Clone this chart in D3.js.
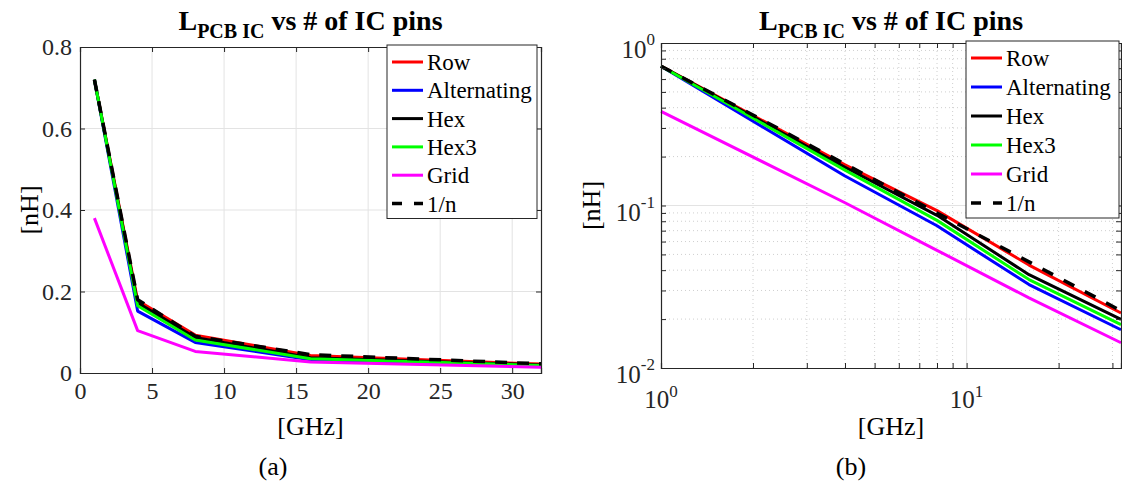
<!DOCTYPE html>
<html><head><meta charset="utf-8">
<script src="https://cdn.jsdelivr.net/npm/d3@7"></script>
<style>
body{margin:0;background:#fff;}
svg text{font-family:"Liberation Serif","Times New Roman","DejaVu Serif",serif !important;}
</style></head>
<body><svg id="c" width="1122" height="488"></svg>
<script>
const xValues = [1, 4, 8, 16, 32];
const rowVals = [0.72, 0.178, 0.093, 0.043, 0.0218];
const altVals = [0.72, 0.152, 0.075, 0.0326, 0.0172];
const hexVals = [0.72, 0.172, 0.087, 0.0375, 0.0199];
const hex3Vals = [0.72, 0.165, 0.081, 0.035, 0.0185];
const gridVals = [0.38, 0.104, 0.053, 0.027, 0.0143];
const invNVals = [0.72, 0.18, 0.09, 0.045, 0.0225];
const seriesNames = ["Row", "Alternating", "Hex", "Hex3", "Grid", "1/n"];
const seriesColors = ["#ff0000", "#0000ff", "#000000", "#00ff00", "#ff00ff", "#000000"];
const seriesData = [rowVals, altVals, hexVals, hex3Vals, gridVals, invNVals];
const linTicksX = [0, 5, 10, 15, 20, 25, 30];
const linTicksY = [0, 0.2, 0.4, 0.6, 0.8];
const logTicksX = [1, 10];
const logTicksY = [0.01, 0.1, 1];
const titleMain = "L", titleSub = "PCB IC", titleRest = " vs # of IC pins";
const xLabel = "[GHz]", yLabel = "[nH]";
const panelLabels = ["(a)", "(b)"];

const svg = d3.select("#c");
const AX = "#262626", GRID = "#e3e3e3", MGRID = "#cfcfcf";
const LW = 3;

function legend(g, x0, y0, w, firstY, step) {
  const h = firstY - y0 + step * 5 + 15;
  g.append("rect").attr("x", x0).attr("y", y0).attr("width", w).attr("height", h)
    .attr("fill", "#fff").attr("stroke", AX).attr("stroke-width", 1);
  seriesNames.forEach((n, i) => {
    const cy = firstY + i * step;
    g.append("line").attr("x1", x0 + 5).attr("x2", x0 + 36).attr("y1", cy).attr("y2", cy)
      .attr("stroke", seriesColors[i]).attr("stroke-width", i === 5 ? 3.5 : LW)
      .attr("stroke-dasharray", i === 5 ? "10,12" : null);
    g.append("text").attr("x", x0 + 40).attr("y", cy + 8).attr("font-size", 23)
      .attr("fill", "#000").text(n);
  });
}

function title(g, cx, y) {
  const t = g.append("text").attr("x", cx).attr("y", y).attr("text-anchor", "middle")
    .attr("font-weight", "bold").attr("font-size", 28).attr("fill", "#000");
  t.append("tspan").text(titleMain);
  t.append("tspan").attr("font-size", 20).attr("dy", 8).text(titleSub);
  t.append("tspan").attr("dy", -8).text(titleRest);
}

// ---------- Panel (a): linear ----------
{
  const L = 80, R = 541, T = 47, B = 373;
  const x = d3.scaleLinear().domain([0, 32]).range([L, R]);
  const y = d3.scaleLinear().domain([0, 0.8]).range([B, T]);
  const g = svg.append("g");
  g.selectAll(".gx").data(linTicksX.filter(d => d > 0)).join("line")
    .attr("x1", d => x(d)).attr("x2", d => x(d)).attr("y1", T).attr("y2", B)
    .attr("stroke", GRID).attr("stroke-width", 1);
  g.selectAll(".gy").data(linTicksY.filter(d => d > 0 && d < 0.8)).join("line")
    .attr("y1", d => y(d)).attr("y2", d => y(d)).attr("x1", L).attr("x2", R)
    .attr("stroke", GRID).attr("stroke-width", 1);
  const line = d3.line().x((d, i) => x(xValues[i])).y(d => y(d));
  seriesData.forEach((s, i) => {
    g.append("path").datum(s).attr("d", line).attr("fill", "none")
      .attr("stroke", seriesColors[i]).attr("stroke-width", i === 5 ? 3.5 : LW)
      .attr("stroke-dasharray", i === 5 ? "12,10" : null).attr("stroke-linejoin", "round");
  });
  const ax = g.append("g").attr("transform", `translate(0,${B})`)
    .call(d3.axisBottom(x).tickValues(linTicksX).tickSize(-5).tickPadding(9).tickFormat(d3.format("d")));
  const axT = g.append("g").attr("transform", `translate(0,${T})`)
    .call(d3.axisTop(x).tickValues(linTicksX).tickSize(-5).tickFormat(""));
  const ay = g.append("g").attr("transform", `translate(${L},0)`)
    .call(d3.axisLeft(y).tickValues(linTicksY).tickSize(-5).tickPadding(8).tickFormat(d => d === 0 ? "0" : d3.format(".1f")(d)));
  const ayR = g.append("g").attr("transform", `translate(${R},0)`)
    .call(d3.axisRight(y).tickValues(linTicksY).tickSize(-5).tickFormat(""));
  [ax, axT, ay, ayR].forEach(a => {
    a.select(".domain").attr("stroke", AX).attr("stroke-width", 1.2);
    a.selectAll(".tick line").attr("stroke", AX);
    a.selectAll("text").attr("font-size", 24).attr("fill", "#262626");
  });
  ax.selectAll("text").attr("dy", "0.72em");
  legend(g, 387, 45, 150, 62, 28.3);
  title(g, (L + R) / 2, 30);
  g.append("text").attr("x", (L + R) / 2).attr("y", 435).attr("text-anchor", "middle").attr("font-size", 26).text(xLabel);
  g.append("text").attr("transform", `translate(38,${(T + B) / 2}) rotate(-90)`).attr("text-anchor", "middle").attr("font-size", 26).text(yLabel);
  g.append("text").attr("x", 273).attr("y", 475).attr("text-anchor", "middle").attr("font-size", 26).text(panelLabels[0]);
}

// ---------- Panel (b): log-log ----------
{
  const L = 661, R = 1121, T = 43, B = 368;
  const x = d3.scaleLog().domain([1, 32]).range([L, R]);
  const y = d3.scaleLog().domain([0.01, 1]).range([B, T]);
  const g = svg.append("g");
  const minorX = [2, 3, 4, 5, 6, 7, 8, 9, 20, 30];
  const minorY = [0.02, 0.03, 0.04, 0.05, 0.06, 0.07, 0.08, 0.09, 0.2, 0.3, 0.4, 0.5, 0.6, 0.7, 0.8, 0.9];
  g.selectAll(".mgx").data(minorX).join("line")
    .attr("x1", d => x(d)).attr("x2", d => x(d)).attr("y1", T).attr("y2", B)
    .attr("stroke", MGRID).attr("stroke-width", 1).attr("stroke-dasharray", "1,3");
  g.selectAll(".mgy").data(minorY).join("line")
    .attr("y1", d => y(d)).attr("y2", d => y(d)).attr("x1", L).attr("x2", R)
    .attr("stroke", MGRID).attr("stroke-width", 1).attr("stroke-dasharray", "1,3");
  g.append("line").attr("x1", x(10)).attr("x2", x(10)).attr("y1", T).attr("y2", B).attr("stroke", GRID);
  g.append("line").attr("y1", y(0.1)).attr("y2", y(0.1)).attr("x1", L).attr("x2", R).attr("stroke", GRID);
  const line = d3.line().x((d, i) => x(xValues[i])).y(d => y(d));
  seriesData.forEach((s, i) => {
    g.append("path").datum(s).attr("d", line).attr("fill", "none")
      .attr("stroke", seriesColors[i]).attr("stroke-width", i === 5 ? 3.5 : LW)
      .attr("stroke-dasharray", i === 5 ? "12,12" : null).attr("stroke-linejoin", "round");
  });
  const allX = logTicksX.concat(minorX), allY = logTicksY.concat(minorY);
  const axB = g.append("g").attr("transform", `translate(0,${B})`).call(d3.axisBottom(x).tickValues(allX).tickSize(-5).tickFormat(""));
  const axT = g.append("g").attr("transform", `translate(0,${T})`).call(d3.axisTop(x).tickValues(allX).tickSize(-5).tickFormat(""));
  const ayL = g.append("g").attr("transform", `translate(${L},0)`).call(d3.axisLeft(y).tickValues(allY).tickSize(-5).tickFormat(""));
  const ayR = g.append("g").attr("transform", `translate(${R},0)`).call(d3.axisRight(y).tickValues(allY).tickSize(-5).tickFormat(""));
  [axB, axT, ayL, ayR].forEach(a => {
    a.select(".domain").attr("stroke", AX).attr("stroke-width", 1.2);
    a.selectAll(".tick line").attr("stroke", AX);
  });
  logTicksX.forEach(v => {
    const t = g.append("text").attr("x", x(v)).attr("y", 408).attr("text-anchor", "middle").attr("font-size", 25).attr("fill", "#262626");
    t.append("tspan").text("10");
    t.append("tspan").attr("font-size", 17).attr("dy", -11).text(Math.round(Math.log10(v)));
  });
  logTicksY.forEach(v => {
    const t = g.append("text").attr("x", L - 6).attr("y", y(v) + 15).attr("text-anchor", "end").attr("font-size", 25).attr("fill", "#262626");
    t.append("tspan").text("10");
    t.append("tspan").attr("font-size", 17).attr("dy", -13).text(Math.round(Math.log10(v)));
  });
  legend(g, 966, 41, 153, 58, 29);
  title(g, (L + R) / 2, 30);
  g.append("text").attr("x", (L + R) / 2).attr("y", 435).attr("text-anchor", "middle").attr("font-size", 26).text(xLabel);
  g.append("text").attr("transform", `translate(600,${(T + B) / 2}) rotate(-90)`).attr("text-anchor", "middle").attr("font-size", 26).text(yLabel);
  g.append("text").attr("x", 851).attr("y", 475).attr("text-anchor", "middle").attr("font-size", 26).text(panelLabels[1]);
}
</script></body></html>
